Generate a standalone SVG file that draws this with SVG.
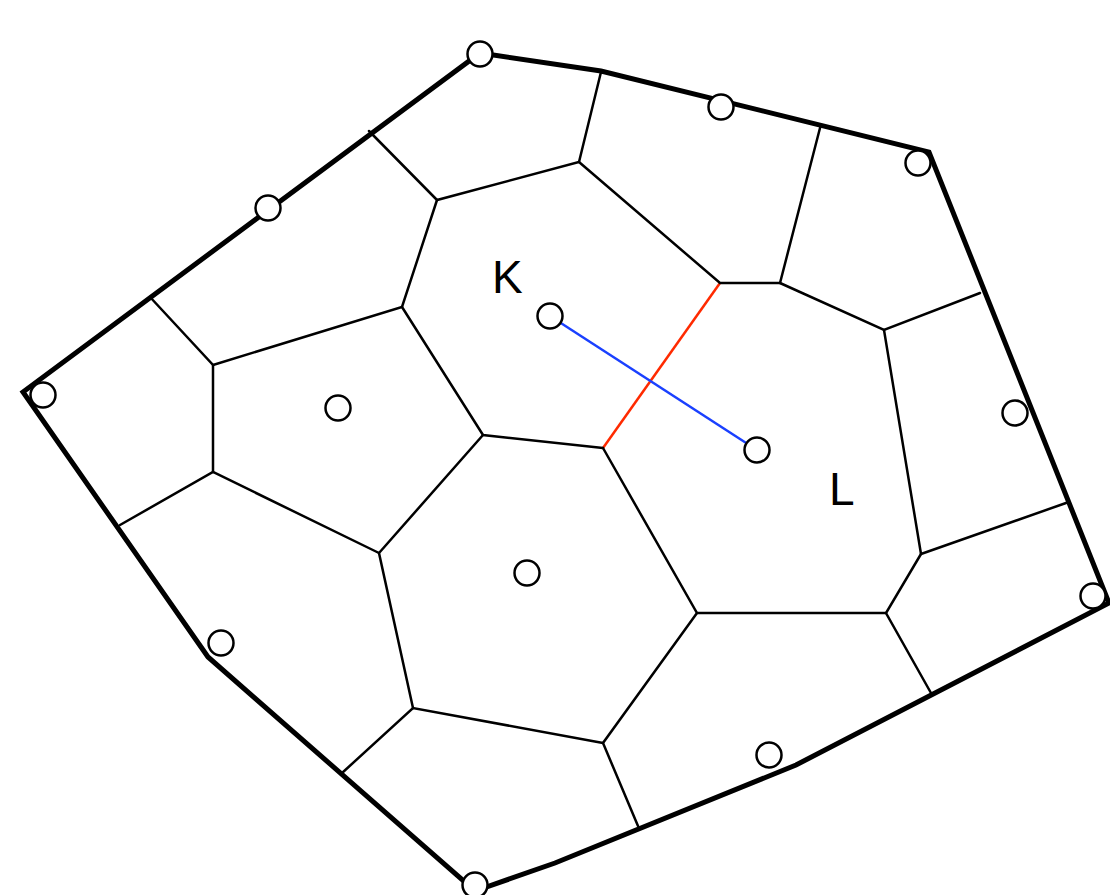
<svg xmlns="http://www.w3.org/2000/svg" width="1110" height="895" viewBox="0 0 1110 895">
<style>
.bd{fill:none;stroke:#000;stroke-width:5;stroke-linejoin:miter}
.ed{fill:none;stroke:#000;stroke-width:2.5;stroke-linecap:round}
.site{fill:#fff;stroke:#000;stroke-width:2.5}
.lbl{font-family:"Liberation Sans",Arial,sans-serif;font-size:46px;fill:#000}
</style>
<rect width="1110" height="895" fill="#fff"/>
<g id="connectors">
<path id="edge-k-l" d="M720,283 L603,448" fill="none" stroke="#ff2a00" stroke-width="2.5"/>
<path id="link-k-l" d="M550,316 L757,450" fill="none" stroke="#1a40ff" stroke-width="2.5"/>
<g id="cells">
<path class="ed" d="M369,131 L437,200 L579,162 L601,72"/>
<path class="ed" d="M579,162 L720,283 L780,283 L820,128"/>
<path class="ed" d="M780,283 L884,330 L980,293"/>
<path class="ed" d="M884,330 L921,554 L1066,503"/>
<path class="ed" d="M921,554 L886,613 L931,693"/>
<path class="ed" d="M886,613 L697,613 L603,448"/>
<path class="ed" d="M697,613 L603,743 L638,826"/>
<path class="ed" d="M603,743 L413,708 L342,773"/>
<path class="ed" d="M413,708 L379,553 L483,435"/>
<path class="ed" d="M379,553 L213,472 L120,525"/>
<path class="ed" d="M213,472 L213,365 L150,297"/>
<path class="ed" d="M213,365 L402,307 L437,200"/>
<path class="ed" d="M402,307 L483,435 L603,448"/>
</g>
<path id="boundary" class="bd" d="M480,53 L601,71 L929,152 L1109,603 L796,765 L555,863 L475,891 L208,657 L23,392 Z"/>
</g>
<g id="site-1"><circle class="site" cx="480" cy="54" r="12.5"/></g>
<g id="site-2"><circle class="site" cx="721" cy="107" r="12.5"/></g>
<g id="site-3"><circle class="site" cx="918" cy="163" r="12.5"/></g>
<g id="site-4"><circle class="site" cx="268" cy="208" r="12.5"/></g>
<g id="site-K"><circle class="site" cx="550" cy="316" r="12.5"/><text class="lbl" x="492" y="293">K</text></g>
<g id="site-5"><circle class="site" cx="338" cy="408" r="12.5"/></g>
<g id="site-6"><circle class="site" cx="43" cy="395" r="12.5"/></g>
<g id="site-7"><circle class="site" cx="1015" cy="413" r="12.5"/></g>
<g id="site-L"><circle class="site" cx="757" cy="450" r="12.5"/><text class="lbl" x="829" y="505">L</text></g>
<g id="site-8"><circle class="site" cx="527" cy="573" r="12.5"/></g>
<g id="site-9"><circle class="site" cx="221" cy="643" r="12.5"/></g>
<g id="site-10"><circle class="site" cx="1093" cy="596" r="12.5"/></g>
<g id="site-11"><circle class="site" cx="769" cy="755" r="12.5"/></g>
<g id="site-12"><circle class="site" cx="475" cy="885" r="12.5"/></g>
</svg>
